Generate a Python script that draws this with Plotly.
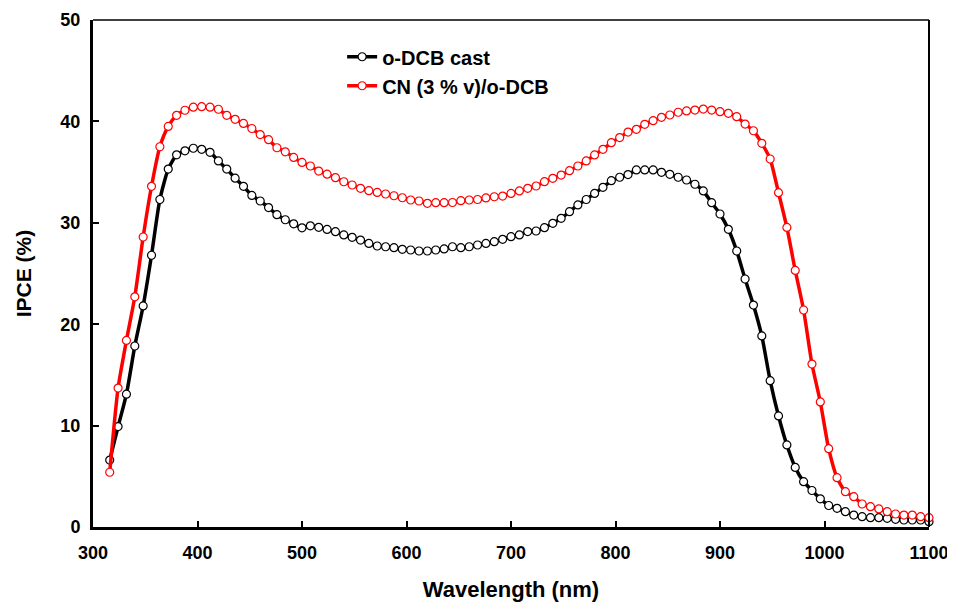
import plotly.graph_objects as go

# Wavelength grid (nm) of the measured points
wavelength = list(range(316, 1101, 8))

ipce_odcb = [
    6.6, 9.9, 13.1, 17.85, 21.8, 26.8, 32.3, 35.3, 36.7, 37.1,
    37.35, 37.25, 36.95, 36.1, 35.3, 34.4, 33.6, 32.7, 32.15, 31.5,
    30.8, 30.3, 29.9, 29.5, 29.7, 29.55, 29.35, 29.12, 28.8, 28.57,
    28.3, 27.97, 27.71, 27.64, 27.55, 27.38, 27.32, 27.22, 27.22, 27.32,
    27.42, 27.64, 27.55, 27.64, 27.81, 27.97, 28.14, 28.37, 28.63, 28.8,
    29.13, 29.19, 29.52, 29.95, 30.44, 31.1, 31.76, 32.3, 32.9, 33.5,
    34.15, 34.49, 34.76, 35.21, 35.21, 35.21, 34.98, 34.78, 34.49, 34.22,
    33.8, 33.14, 31.98, 30.87, 29.36, 27.22, 24.46, 21.89, 18.84, 14.43,
    10.95, 8.09, 5.88, 4.47, 3.6, 2.78, 2.12, 1.84, 1.51, 1.18,
    1.02, 0.92, 0.92, 0.86, 0.76, 0.69, 0.69, 0.69, 0.53,
]

ipce_cn = [
    5.4, 13.7, 18.4, 22.7, 28.6, 33.6, 37.5, 39.5, 40.6, 41.1,
    41.4, 41.45, 41.4, 41.2, 40.6, 40.2, 39.8, 39.3, 38.7, 38.2,
    37.4, 37.0, 36.45, 35.95, 35.6, 35.1, 34.8, 34.45, 34.05, 33.73,
    33.4, 33.17, 33.0, 32.84, 32.67, 32.47, 32.25, 32.15, 31.92, 31.98,
    31.98, 32.0, 32.18, 32.25, 32.3, 32.45, 32.57, 32.64, 32.9, 33.14,
    33.4, 33.63, 34.06, 34.39, 34.71, 35.14, 35.6, 36.1, 36.69, 37.25,
    37.9, 38.4, 38.95, 39.22, 39.71, 40.07, 40.4, 40.63, 40.9, 41.03,
    41.12, 41.22, 41.12, 40.96, 40.8, 40.47, 39.74, 39.08, 37.84, 36.29,
    32.97, 29.54, 25.3, 21.4, 16.07, 12.33, 7.72, 4.86, 3.48, 2.99,
    2.27, 2.0, 1.78, 1.51, 1.28, 1.18, 1.18, 1.02, 0.92,
]

series_names = ["o-DCB cast", "CN (3 % v)/o-DCB"]
series_colors = ["#000000", "#ff0000"]

x_ticks = [300, 400, 500, 600, 700, 800, 900, 1000, 1100]
y_ticks = [0, 10, 20, 30, 40, 50]

FONT = "Liberation Sans, Arial, sans-serif"

fig = go.Figure()
for name, vals, col in zip(series_names, [ipce_odcb, ipce_cn], series_colors):
    fig.add_trace(go.Scatter(
        x=wavelength, y=vals, name=name, mode="lines+markers",
        line=dict(color=col, width=3.5, shape="spline", smoothing=0.6),
        marker=dict(symbol="circle", size=8, color="white",
                    line=dict(color=col, width=1.2)),
        cliponaxis=False,
    ))

# page body has an 8px default margin: figure is sized to compensate
fig.update_layout(
    width=947, height=599,
    margin=dict(l=85, r=26, t=12, b=80),
    paper_bgcolor="white", plot_bgcolor="white",
    showlegend=True,
    legend=dict(x=0.298, y=0.966, xanchor="left", yanchor="top",
                bgcolor="rgba(0,0,0,0)",
                font=dict(family=FONT, size=20, color="black", weight="bold"),
                tracegroupgap=0, itemwidth=30),
    font=dict(family=FONT, color="black"),
)

fig.update_xaxes(
    range=[300, 1100], tickvals=x_ticks,
    showline=True, linecolor="black", linewidth=3,
    ticks="inside", ticklen=6, tickwidth=2, tickcolor="black",
    showgrid=False, zeroline=False, automargin=False,
    ticklabelstandoff=7,
    tickfont=dict(family=FONT, size=18, color="black", weight="bold"),
    title=dict(text="Wavelength (nm)", standoff=21,
               font=dict(family=FONT, size=22, color="black", weight="bold")),
)
fig.update_yaxes(
    range=[0, 50], tickvals=y_ticks,
    showline=True, linecolor="black", linewidth=3,
    ticks="inside", ticklen=6, tickwidth=2, tickcolor="black",
    showgrid=False, zeroline=False, automargin=False,
    ticklabelstandoff=6,
    tickfont=dict(family=FONT, size=18, color="black", weight="bold"),
    title=dict(text="IPCE (%)", standoff=24,
               font=dict(family=FONT, size=21, color="black", weight="bold")),
)

# thin frame on top and right
fig.add_shape(type="line", xref="paper", yref="paper", x0=0, x1=1, y0=1, y1=1,
              line=dict(color="black", width=1.5))
fig.add_shape(type="line", xref="paper", yref="paper", x0=1, x1=1, y0=0, y1=1,
              line=dict(color="black", width=2))

fig.write_html("out.html")
